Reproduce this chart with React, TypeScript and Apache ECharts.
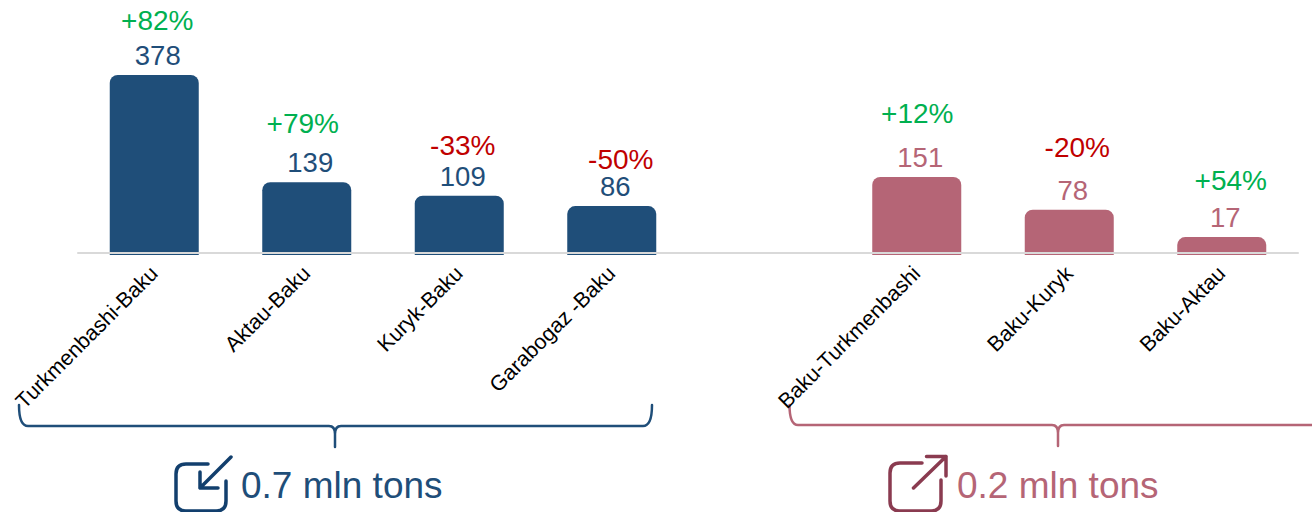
import React, { useEffect, useRef } from "react";
import * as echarts from "echarts";

const categories = [
  "Turkmenbashi-Baku", "Aktau-Baku", "Kuryk-Baku", "Garabogaz -Baku", "",
  "Baku-Turkmenbashi", "Baku-Kuryk", "Baku-Aktau",
];
const inbound = [378, 139, 109, 86, null, null, null, null];
const outbound = [null, null, null, null, null, 151, 78, 17];
const changes = ["+82%", "+79%", "-33%", "-50%", "", "+12%", "-20%", "+54%"];
const totalIn = "0.7 mln tons";
const totalOut = "0.2 mln tons";

const NAVY = "#1F4E79";
const ROSE = "#B56576";
const NAVY_DARK = "#123F6D";
const ROSE_DARK = "#8A3B50";
const FONT = '"Liberation Sans", Arial, sans-serif';

// label nudges (dx, dy) of the change labels relative to the bar top
const changeNudge: [number, number][] = [
  [3, -54], [-4, -59], [3.5, -50], [9, -47], [0, 0], [0.5, -63], [8, -62], [9, -57],
];

const shape = (name: string, d: string) =>
  echarts.graphic.registerShape(name, echarts.graphic.extendPath(d, {}) as any);
shape("bracketIn", "M19 405 Q19 426 28 426 H329 Q335 426 335 434 V447 M335 434 Q335 426 341 426 H643 Q652 426 652 405");
shape("bracketOut", "M789.5 405 Q789.5 425 798 425 H1052 Q1058 425 1058 433 V446 M1058 433 Q1058 425 1064 425 H1312");
shape("iconIn", "M208 464 H186 Q176 464 176 474 V501 Q176 511 186 511 H216 Q226 511 226 501 V481 M231 457 L200 488 M200 472 V488 H218");
shape("iconOut", "M922 463 H900 Q890 463 890 473 V501 Q890 511 900 511 H931 Q941 511 941 501 V480 M913.5 488 L946 456.5 M926.5 456.5 H946 V476");

export default function App() {
  const ref = useRef<HTMLDivElement>(null);
  useEffect(() => {
    const chart = echarts.init(ref.current!, undefined, { renderer: "svg" });
    const valueLabel = (color: string) => ({
      show: true,
      position: "top" as const,
      distance: 5.5,
      offset: [3.5, 0],
      color,
      fontSize: 27.5,
      fontFamily: FONT,
    });
    const pathEl = (type: string, stroke: string, lineWidth: number) => ({
      type, x: 0, y: 0, silent: true,
      style: { fill: "none", stroke, lineWidth, lineCap: "round", lineJoin: "round" },
    });
    chart.setOption({
      animation: false,
      backgroundColor: "#ffffff",
      grid: { left: 78, width: 1220, top: 0, height: 255 },
      xAxis: {
        type: "category",
        data: categories,
        offset: -2,
        z: 5,
        axisLine: { show: true, onZero: false, lineStyle: { color: "#D9D9D9", width: 2 } },
        axisTick: { show: false },
        axisLabel: {
          interval: 0, rotate: 45, margin: 17, color: "#000000",
          fontSize: 21.4, fontFamily: FONT,
        },
      },
      yAxis: { type: "value", min: -23, max: 545, startValue: -23, show: false, splitLine: { show: false } },
      series: [
        {
          type: "bar", name: "Inbound", data: inbound, barWidth: 89, barGap: "-100%", clip: false,
          itemStyle: { color: NAVY, borderRadius: [8, 8, 0, 0] },
          label: valueLabel(NAVY),
        },
        {
          type: "bar", name: "Outbound", data: outbound, barWidth: 89, barGap: "-100%", clip: false,
          itemStyle: { color: ROSE, borderRadius: [8, 8, 0, 0] },
          label: valueLabel(ROSE),
        },
        {
          type: "scatter", name: "Change", symbolSize: 0, silent: true,
          itemStyle: { opacity: 1 },
          data: categories.map((_, i) => {
            const v = inbound[i] ?? outbound[i];
            return {
              value: v,
              label: {
                show: !!changes[i],
                formatter: changes[i],
                position: "inside",
                offset: changeNudge[i],
                color: changes[i].startsWith("+") ? "#00B050" : "#C00000",
                opacity: 1,
                fontSize: 28,
                fontFamily: FONT,
              },
            };
          }),
        },
      ],
      graphic: [
        pathEl("bracketIn", NAVY, 2.5),
        pathEl("bracketOut", ROSE, 2.5),
        pathEl("iconIn", NAVY_DARK, 3.5),
        pathEl("iconOut", ROSE_DARK, 3.5),
        {
          type: "text", x: 241, y: 485, silent: true,
          style: { text: totalIn, fill: NAVY, fontSize: 37, fontFamily: FONT, verticalAlign: "middle" },
        },
        {
          type: "text", x: 957, y: 485, silent: true,
          style: { text: totalOut, fill: ROSE, fontSize: 37, fontFamily: FONT, verticalAlign: "middle" },
        },
      ],
    });
    return () => chart.dispose();
  }, []);
  return <div ref={ref} style={{ position: "absolute", left: 0, top: 0, width: 1312, height: 512 }} />;
}
